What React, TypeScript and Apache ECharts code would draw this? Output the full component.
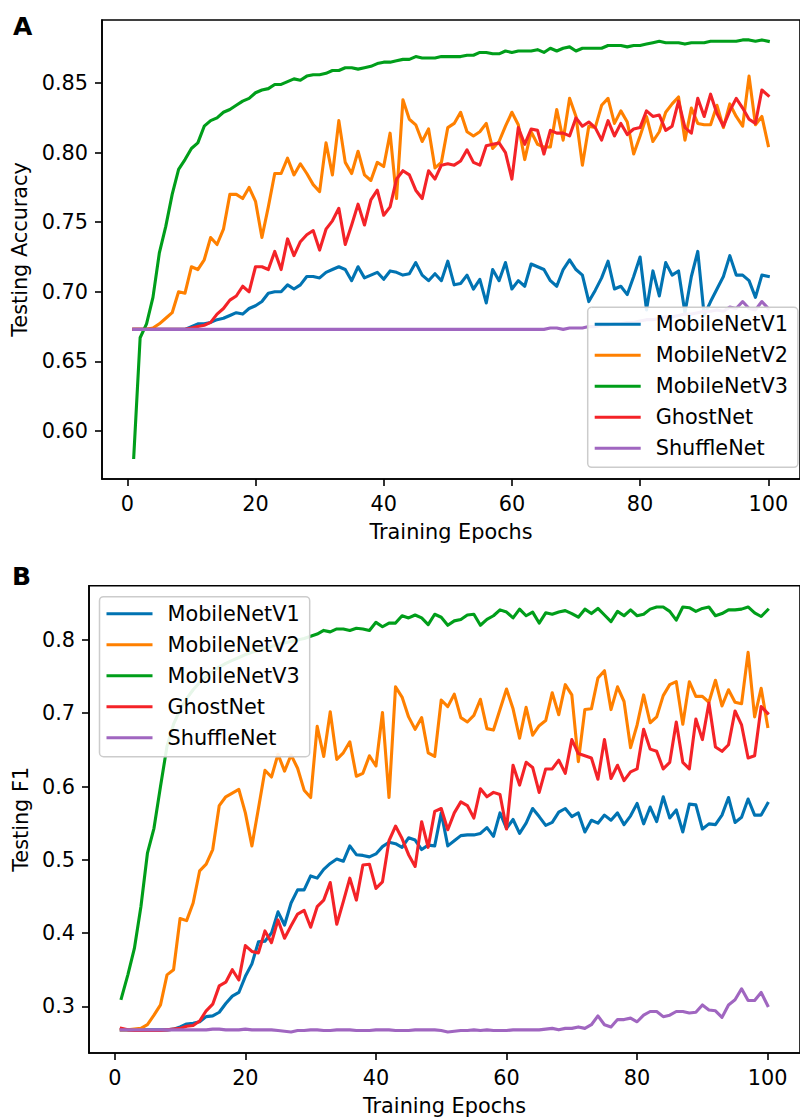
import React, { useEffect, useRef } from "react";
import * as echarts from "echarts";

const names = ["MobileNetV1", "MobileNetV2", "MobileNetV3", "GhostNet", "ShuffleNet"];
const colors = ["#0173B2", "#FF8000", "#009E1A", "#F42328", "#A066C0"];
const epochs = Array.from({ length: 100 }, (_, i) => i + 1);
const xTicks = [0, 20, 40, 60, 80, 100];
const accTicks = [0.6, 0.65, 0.7, 0.75, 0.8, 0.85];
const f1Ticks = [0.3, 0.4, 0.5, 0.6, 0.7, 0.8];

const accV1 = [
  0.673, 0.673, 0.673, 0.673, 0.673, 0.673, 0.673, 0.673, 0.673, 0.675,
  0.677, 0.677, 0.678, 0.68, 0.681, 0.683, 0.685, 0.684, 0.688, 0.69,
  0.693, 0.699, 0.7, 0.7, 0.705, 0.702, 0.705, 0.711, 0.711, 0.71,
  0.714, 0.716, 0.718, 0.716, 0.708, 0.718, 0.71, 0.712, 0.714, 0.709,
  0.715, 0.714, 0.712, 0.713, 0.721, 0.712, 0.708, 0.713, 0.708, 0.722,
  0.705, 0.706, 0.712, 0.702, 0.709, 0.692, 0.716, 0.708, 0.721, 0.702,
  0.708, 0.704, 0.72, 0.718, 0.716, 0.708, 0.704, 0.716, 0.723, 0.716,
  0.712, 0.693, 0.701, 0.71, 0.722, 0.702, 0.704, 0.698, 0.711, 0.725,
  0.687, 0.715, 0.697, 0.721, 0.712, 0.715, 0.685, 0.711, 0.729, 0.683,
  0.693, 0.702, 0.711, 0.726, 0.712, 0.712, 0.708, 0.696, 0.712, 0.711,
];
const accV2 = [
  0.673, 0.673, 0.673, 0.674, 0.677, 0.681, 0.685, 0.7, 0.699, 0.718,
  0.716, 0.723, 0.739, 0.734, 0.745, 0.77, 0.77, 0.767, 0.775, 0.765,
  0.739, 0.761, 0.785, 0.785, 0.796, 0.784, 0.792, 0.785, 0.777, 0.772,
  0.807, 0.784, 0.823, 0.793, 0.785, 0.801, 0.784, 0.78, 0.793, 0.79,
  0.814, 0.767, 0.838, 0.824, 0.82, 0.808, 0.817, 0.789, 0.793, 0.818,
  0.821, 0.829, 0.815, 0.812, 0.815, 0.821, 0.803, 0.808, 0.819, 0.829,
  0.82, 0.795, 0.815, 0.806, 0.804, 0.804, 0.831, 0.809, 0.839, 0.826,
  0.791, 0.819, 0.818, 0.834, 0.839, 0.821, 0.83, 0.822, 0.799, 0.812,
  0.826, 0.808, 0.815, 0.829, 0.835, 0.84, 0.809, 0.832, 0.821, 0.82,
  0.82, 0.834, 0.818, 0.835, 0.826, 0.819, 0.855, 0.82, 0.826, 0.805,
];
const accV3 = [
  0.581, 0.667, 0.677, 0.696, 0.728, 0.747, 0.77, 0.788, 0.795, 0.803,
  0.807, 0.819, 0.823, 0.825, 0.829, 0.831, 0.834, 0.837, 0.839, 0.843,
  0.845, 0.846, 0.849, 0.849, 0.851, 0.853, 0.852, 0.855, 0.856, 0.856,
  0.857, 0.859, 0.859, 0.861, 0.861, 0.86, 0.861, 0.862, 0.864, 0.865,
  0.865, 0.866, 0.867, 0.867, 0.869, 0.868, 0.868, 0.868, 0.869, 0.869,
  0.869, 0.869, 0.87, 0.87, 0.872, 0.872, 0.871, 0.871, 0.873, 0.872,
  0.873, 0.873, 0.873, 0.874, 0.872, 0.875, 0.873, 0.875, 0.876, 0.873,
  0.875, 0.875, 0.875, 0.875, 0.877, 0.877, 0.877, 0.876, 0.877, 0.877,
  0.878, 0.879, 0.88, 0.879, 0.879, 0.879, 0.878, 0.879, 0.879, 0.879,
  0.88, 0.88, 0.88, 0.88, 0.88, 0.881, 0.881, 0.88, 0.881, 0.88,
];
const accGhost = [
  0.673, 0.673, 0.673, 0.673, 0.673, 0.673, 0.673, 0.673, 0.673, 0.674,
  0.675, 0.676, 0.678, 0.684, 0.688, 0.694, 0.697, 0.704, 0.7, 0.718,
  0.718, 0.716, 0.729, 0.716, 0.738, 0.726, 0.736, 0.741, 0.744, 0.73,
  0.745, 0.751, 0.76, 0.734, 0.748, 0.763, 0.748, 0.766, 0.773, 0.755,
  0.761, 0.781, 0.787, 0.784, 0.773, 0.767, 0.787, 0.781, 0.791, 0.792,
  0.791, 0.794, 0.802, 0.793, 0.791, 0.805, 0.806, 0.807, 0.8, 0.781,
  0.818, 0.806, 0.817, 0.816, 0.799, 0.816, 0.814, 0.814, 0.812, 0.825,
  0.819, 0.822, 0.818, 0.809, 0.823, 0.812, 0.821, 0.813, 0.817, 0.818,
  0.83, 0.826, 0.827, 0.816, 0.819, 0.837, 0.818, 0.814, 0.839, 0.826,
  0.842, 0.828, 0.819, 0.83, 0.839, 0.832, 0.824, 0.821, 0.845, 0.841,
];
const accShuffle = [
  0.673, 0.673, 0.673, 0.673, 0.673, 0.673, 0.673, 0.673, 0.673, 0.673,
  0.673, 0.673, 0.673, 0.673, 0.673, 0.673, 0.673, 0.673, 0.673, 0.673,
  0.673, 0.673, 0.673, 0.673, 0.673, 0.673, 0.673, 0.673, 0.673, 0.673,
  0.673, 0.673, 0.673, 0.673, 0.673, 0.673, 0.673, 0.673, 0.673, 0.673,
  0.673, 0.673, 0.673, 0.673, 0.673, 0.673, 0.673, 0.673, 0.673, 0.673,
  0.673, 0.673, 0.673, 0.673, 0.673, 0.673, 0.673, 0.673, 0.673, 0.673,
  0.673, 0.673, 0.673, 0.673, 0.673, 0.674, 0.674, 0.673, 0.674, 0.674,
  0.674, 0.675, 0.675, 0.676, 0.676, 0.677, 0.677, 0.678, 0.678, 0.679,
  0.68, 0.68, 0.681, 0.682, 0.682, 0.683, 0.684, 0.684, 0.685, 0.686,
  0.686, 0.687, 0.686, 0.689, 0.688, 0.693, 0.688, 0.687, 0.693, 0.688,
];

const f1V1 = [
  0.268, 0.268, 0.268, 0.268, 0.268, 0.268, 0.268, 0.268, 0.269, 0.272,
  0.276, 0.277, 0.279, 0.286, 0.287, 0.292, 0.304, 0.314, 0.319, 0.341,
  0.358, 0.388, 0.389, 0.4, 0.429, 0.411, 0.441, 0.459, 0.459, 0.478,
  0.475, 0.487, 0.495, 0.501, 0.498, 0.519, 0.507, 0.506, 0.504, 0.508,
  0.518, 0.524, 0.522, 0.517, 0.53, 0.527, 0.514, 0.52, 0.519, 0.564,
  0.519, 0.526, 0.533, 0.534, 0.534, 0.536, 0.544, 0.532, 0.564, 0.543,
  0.555, 0.536, 0.55, 0.57, 0.559, 0.547, 0.551, 0.565, 0.57, 0.559,
  0.564, 0.538, 0.554, 0.55, 0.561, 0.554, 0.564, 0.548, 0.56, 0.577,
  0.549, 0.572, 0.552, 0.586, 0.557, 0.568, 0.538, 0.576, 0.575, 0.542,
  0.549, 0.548, 0.561, 0.585, 0.551, 0.558, 0.583, 0.561, 0.561, 0.577,
];
const f1V2 = [
  0.268, 0.268, 0.269, 0.27, 0.275, 0.288, 0.302, 0.343, 0.35, 0.42,
  0.417, 0.441, 0.485, 0.494, 0.514, 0.574, 0.586, 0.591, 0.596, 0.564,
  0.519, 0.57, 0.622, 0.613, 0.644, 0.621, 0.643, 0.625, 0.595, 0.585,
  0.682, 0.641, 0.702, 0.637, 0.646, 0.661, 0.614, 0.618, 0.642, 0.628,
  0.701, 0.585, 0.736, 0.722, 0.695, 0.678, 0.694, 0.646, 0.641, 0.718,
  0.709, 0.726, 0.694, 0.688, 0.697, 0.719, 0.679, 0.677, 0.705, 0.733,
  0.706, 0.666, 0.708, 0.67, 0.683, 0.69, 0.728, 0.698, 0.739, 0.725,
  0.634, 0.705, 0.706, 0.748, 0.758, 0.705, 0.736, 0.716, 0.653, 0.684,
  0.725, 0.687, 0.695, 0.724, 0.739, 0.743, 0.685, 0.743, 0.723, 0.723,
  0.715, 0.745, 0.71, 0.732, 0.715, 0.713, 0.783, 0.695, 0.734, 0.682,
];
const f1V3 = [
  0.311, 0.343, 0.379, 0.436, 0.509, 0.543, 0.6, 0.655, 0.685, 0.705,
  0.72, 0.732, 0.742, 0.75, 0.757, 0.763, 0.768, 0.772, 0.776, 0.78,
  0.783, 0.786, 0.789, 0.791, 0.794, 0.796, 0.798, 0.8, 0.802, 0.805,
  0.808, 0.813, 0.811, 0.815, 0.815, 0.813, 0.816, 0.815, 0.813, 0.824,
  0.818, 0.823, 0.823, 0.833, 0.83, 0.834, 0.83, 0.821, 0.835, 0.831,
  0.82, 0.826, 0.828, 0.834, 0.835, 0.82, 0.828, 0.833, 0.841, 0.838,
  0.83, 0.842, 0.833, 0.838, 0.823, 0.837, 0.835, 0.838, 0.84, 0.836,
  0.831, 0.842, 0.836, 0.843, 0.834, 0.825, 0.839, 0.833, 0.841, 0.833,
  0.835, 0.842, 0.845, 0.845, 0.839, 0.827, 0.845, 0.844, 0.839, 0.843,
  0.845, 0.833, 0.836, 0.841, 0.841, 0.842, 0.845, 0.837, 0.832, 0.841,
];
const f1Ghost = [
  0.27, 0.268, 0.267, 0.267, 0.267, 0.267, 0.267, 0.268, 0.269, 0.27,
  0.273, 0.274, 0.28, 0.294, 0.303, 0.328, 0.333, 0.35, 0.336, 0.383,
  0.375, 0.373, 0.403, 0.387, 0.418, 0.393, 0.41, 0.426, 0.431, 0.408,
  0.436, 0.445, 0.469, 0.412, 0.443, 0.475, 0.445, 0.493, 0.494, 0.461,
  0.47, 0.526, 0.546, 0.529, 0.507, 0.491, 0.552, 0.517, 0.566, 0.57,
  0.541, 0.564, 0.579, 0.574, 0.557, 0.597, 0.586, 0.592, 0.589, 0.542,
  0.629, 0.602, 0.633, 0.626, 0.592, 0.624, 0.624, 0.636, 0.618, 0.664,
  0.645, 0.642, 0.639, 0.61, 0.664, 0.611, 0.629, 0.608, 0.62, 0.624,
  0.678, 0.651, 0.648, 0.624, 0.633, 0.688, 0.633, 0.624, 0.692, 0.664,
  0.714, 0.654, 0.648, 0.657, 0.703, 0.684, 0.639, 0.642, 0.709, 0.7,
];
const f1Shuffle = [
  0.268, 0.268, 0.268, 0.268, 0.268, 0.268, 0.268, 0.268, 0.268, 0.268,
  0.268, 0.268, 0.268, 0.268, 0.269, 0.269, 0.268, 0.268, 0.268, 0.269,
  0.268, 0.268, 0.268, 0.268, 0.267, 0.266, 0.265, 0.267, 0.267, 0.268,
  0.268, 0.267, 0.267, 0.268, 0.268, 0.268, 0.267, 0.267, 0.267, 0.268,
  0.268, 0.268, 0.267, 0.267, 0.267, 0.268, 0.268, 0.268, 0.268, 0.267,
  0.265, 0.266, 0.267, 0.267, 0.268, 0.267, 0.268, 0.267, 0.267, 0.267,
  0.268, 0.268, 0.268, 0.268, 0.268, 0.269, 0.27, 0.268, 0.27, 0.27,
  0.272, 0.27, 0.275, 0.287, 0.275, 0.272, 0.282, 0.282, 0.284, 0.279,
  0.288, 0.293, 0.293, 0.286, 0.288, 0.293, 0.293, 0.291, 0.292, 0.302,
  0.295, 0.294, 0.285, 0.302, 0.309, 0.324, 0.308, 0.308, 0.319, 0.301,
];

const accSeries = [accV1, accV2, accV3, accGhost, accShuffle];
const f1Series = [f1V1, f1V2, f1V3, f1Ghost, f1Shuffle];

const FONT = "DejaVu Sans";
const FS = 20.8;

function makeXAxis(gridIndex: number) {
  return {
    type: "value",
    gridIndex,
    min: -3.95,
    max: 104.95,
    name: "Training Epochs",
    nameLocation: "middle",
    nameGap: 42,
    nameTextStyle: { fontFamily: FONT, fontSize: FS, color: "#000" },
    axisLine: { show: true, onZero: false, lineStyle: { color: "#000", width: 1.6 } },
    axisTick: { show: true, length: 7, inside: false, customValues: xTicks, lineStyle: { color: "#000", width: 1.6 } },
    axisLabel: { customValues: xTicks, margin: 14, fontFamily: FONT, fontSize: FS, color: "#000" },
    splitLine: { show: false },
  };
}

function makeYAxis(gridIndex: number, min: number, max: number, ticks: number[], digits: number, name: string, gap: number) {
  return {
    type: "value",
    gridIndex,
    min,
    max,
    name,
    nameLocation: "middle",
    nameRotate: 90,
    nameGap: gap,
    nameTextStyle: { fontFamily: FONT, fontSize: FS, color: "#000" },
    axisLine: { show: true, onZero: false, lineStyle: { color: "#000", width: 1.6 } },
    axisTick: { show: true, length: 7, inside: false, customValues: ticks, lineStyle: { color: "#000", width: 1.6 } },
    axisLabel: {
      customValues: ticks,
      margin: 14,
      fontFamily: FONT,
      fontSize: FS,
      color: "#000",
      formatter: (v: number) => v.toFixed(digits),
    },
    splitLine: { show: false },
  };
}

function makeLegend(left: number, top: number) {
  return {
    data: names,
    orient: "vertical",
    left,
    top,
    z: 100,
    zlevel: 1,
    icon: "rect",
    itemWidth: 46,
    itemHeight: 3,
    itemGap: 7,
    padding: [5, 10, 7, 7],
    backgroundColor: "rgba(255,255,255,0.9)",
    borderColor: "#cccccc",
    borderWidth: 1.5,
    borderRadius: 4,
    selectedMode: false,
    textStyle: { fontFamily: FONT, fontSize: FS, color: "#000", lineHeight: 24, padding: [0, 0, 0, 10] },
  };
}

export default function App() {
  const ref = useRef<HTMLDivElement>(null);
  useEffect(() => {
    if (!ref.current) return;
    const chart = echarts.init(ref.current, undefined, { renderer: "svg" });
    const series: any[] = [];
    accSeries.forEach((vals, i) => {
      series.push({
        name: names[i],
        type: "line",
        xAxisIndex: 0,
        yAxisIndex: 0,
        z: 2,
        data: epochs.map((e, j) => [e, vals[j]]),
        showSymbol: false,
        symbol: "none",
        color: colors[i],
        lineStyle: { width: 3.1, color: colors[i], join: "round", cap: "square" },
      });
    });
    f1Series.forEach((vals, i) => {
      series.push({
        name: names[i],
        type: "line",
        xAxisIndex: 1,
        yAxisIndex: 1,
        z: 2,
        data: epochs.map((e, j) => [e, vals[j]]),
        showSymbol: false,
        symbol: "none",
        color: colors[i],
        lineStyle: { width: 3.1, color: colors[i], join: "round", cap: "square" },
      });
    });
    chart.setOption({
      animation: false,
      textStyle: { fontFamily: FONT },
      grid: [
        { left: 102, top: 20, width: 706, height: 459, show: true, borderColor: "#000", borderWidth: 1.6, backgroundColor: "transparent" },
        { left: 89, top: 585.7, width: 721.5, height: 467.6, show: true, borderColor: "#000", borderWidth: 1.6, backgroundColor: "transparent" },
      ],
      xAxis: [makeXAxis(0), makeXAxis(1)],
      yAxis: [
        makeYAxis(0, 0.5655, 0.8953, accTicks, 2, "Testing Accuracy", 66),
        makeYAxis(1, 0.2364, 0.874, f1Ticks, 1, "Testing F1", 56),
      ],
      legend: [makeLegend(587.7, 307.3), makeLegend(99.5, 596.7)],
      graphic: [
        { type: "text", left: 13, top: 14, style: { text: "A", fontFamily: FONT, fontSize: 25, fontWeight: "bold", fill: "#000" } },
        { type: "text", left: 12, top: 564, style: { text: "B", fontFamily: FONT, fontSize: 25, fontWeight: "bold", fill: "#000" } },
      ],
      series,
    });
    return () => chart.dispose();
  }, []);
  return <div ref={ref} style={{ position: "absolute", left: 0, top: 0, width: 800, height: 1117 }} />;
}
